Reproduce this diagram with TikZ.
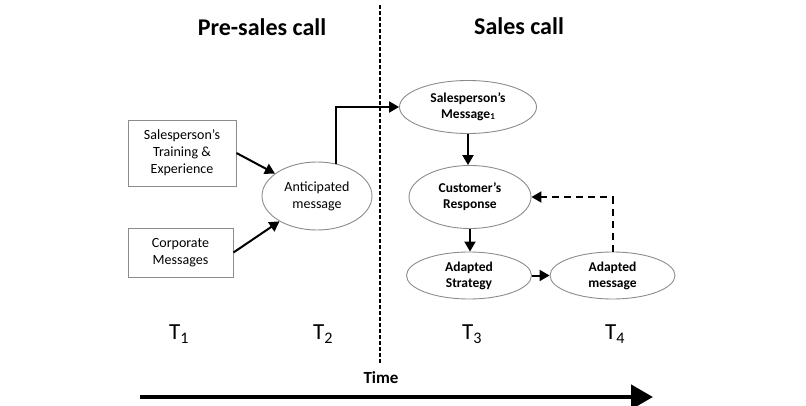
\documentclass[tikz,border=0pt]{standalone}
\usepackage{fontspec}
\setmainfont{Carlito}
\usetikzlibrary{arrows.meta,shapes.geometric}
\begin{document}
\begin{tikzpicture}[x=1pt,y=-1pt,
  boxn/.style={draw=black!45,line width=0.9pt,fill=white,align=center,inner sep=0pt,
    font=\fontsize{14}{17}\selectfont},
  ell/.style={ellipse,draw=black!45,line width=0.9pt,fill=white,align=center,inner sep=0pt,
    font=\fontsize{13.5}{16}\selectfont\bfseries},
  ellr/.style={ell,font=\fontsize{14}{17}\selectfont},
  arr/.style={line width=2pt,-{Triangle[length=10pt,width=11pt]}},
  darr/.style={arr,dash pattern=on 7pt off 5pt},
  head/.style={font=\fontsize{24}{28}\selectfont\bfseries},
  tl/.style={font=\fontsize{23}{26}\selectfont}
]
\useasboundingbox (0,0) rectangle (806,406);
% dashed divider
\coordinate (dtop) at (380,5);
\coordinate (dbot) at (380,364);
\draw[line width=2pt,dash pattern=on 4pt off 2pt] (dtop) -- (dbot);
% headings
\node[head] (pre) at (262,27) {Pre-sales call};
\node[head] (sc) at (519,26) {Sales call};
% boxes
\node[boxn,minimum width=108pt,minimum height=66pt] (b1) at (182,153) {Salesperson’s\\Training \&\\Experience};
\node[boxn,minimum width=105pt,minimum height=49pt] (b2) at (180.5,252.5) {Corporate\\Messages};
% ellipses
\node[ellr,minimum width=110pt,minimum height=68pt] (ant) at (317,196) {Anticipated\\message};
\node[ell,minimum width=137pt,minimum height=53pt] (sm) at (468,107) {Salesperson’s\\Message{\fontsize{9}{9}\selectfont\raisebox{-0.25ex}{1}}};
\node[ell,minimum width=122pt,minimum height=63pt] (cr) at (470,197) {Customer’s\\Response};
\node[ell,minimum width=125pt,minimum height=47pt] (as) at (469,275.5) {Adapted\\Strategy};
\node[ell,minimum width=125pt,minimum height=47pt] (am) at (612.5,275.5) {Adapted\\message};
% connectors
\draw[arr] (b1.east) -- (ant);
\draw[arr] (b2.east) -- (ant);
\draw[arr] (ant.60) |- (sm.west);
\draw[arr] (sm.south) -- (sm.south |- cr.north);
\draw[arr] (cr.south) -- (cr.south |- as.north);
\draw[arr] (as.east) -- (am.west);
\draw[darr] (am.north) |- (cr.east);
% time labels
\node[tl] (t1) at (179,334) {T\textsubscript{1}};
\node[tl] (t2) at (323,334) {T\textsubscript{2}};
\node[tl] (t3) at (472,334) {T\textsubscript{3}};
\node[tl] (t4) at (615,334) {T\textsubscript{4}};
\node[font=\fontsize{17}{20}\selectfont\bfseries] (time) at (381,378) {Time};
\coordinate (ts) at (140,397);
\coordinate (te) at (653,397);
\draw[line width=4.5pt,-{Triangle[length=22pt,width=24pt]}] (ts) -- (te);
\end{tikzpicture}
\end{document}
